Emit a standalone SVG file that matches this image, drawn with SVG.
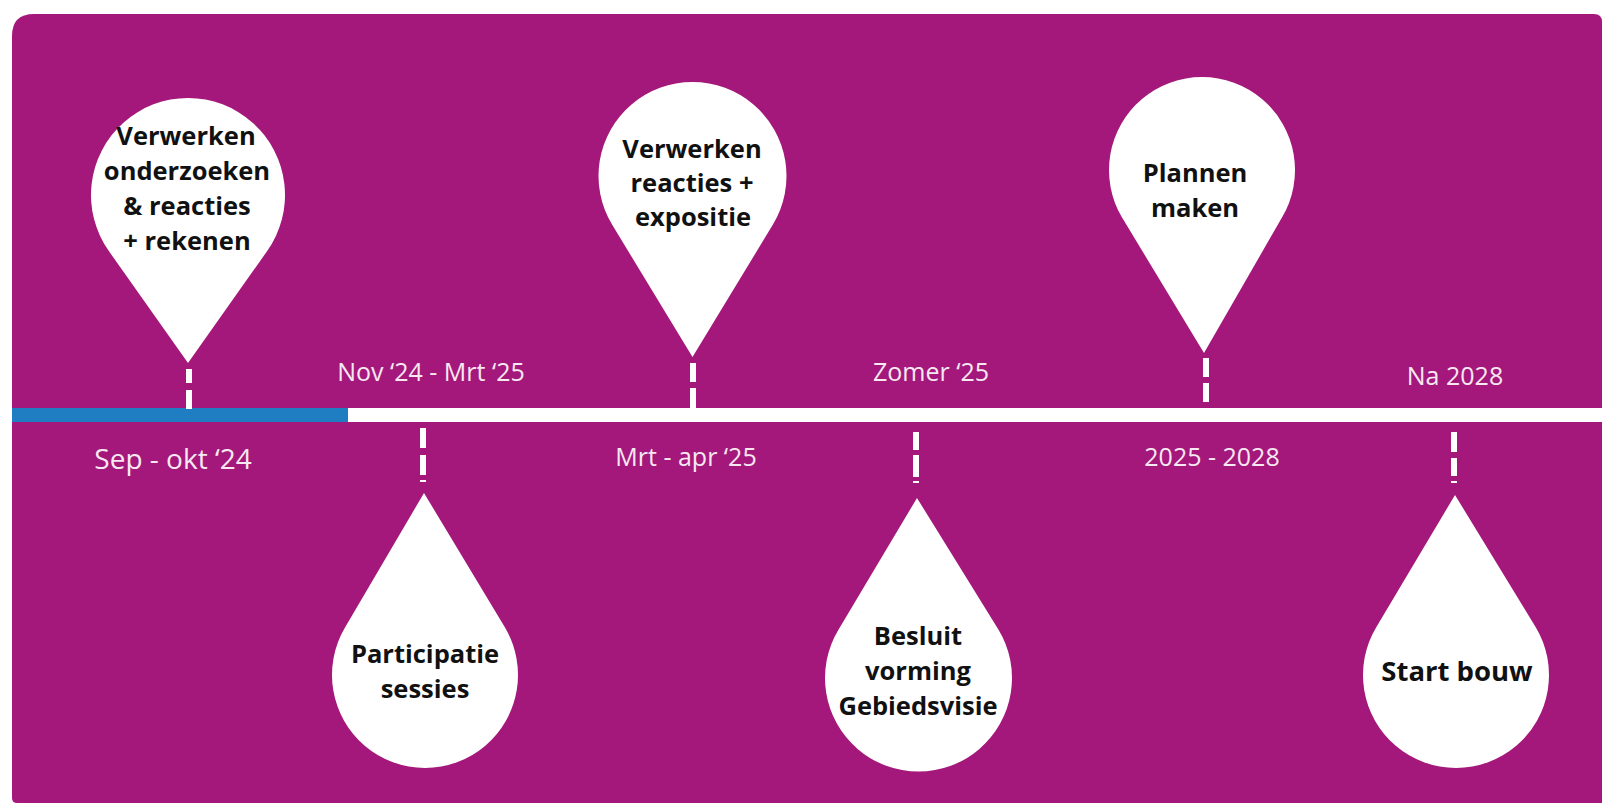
<svg xmlns="http://www.w3.org/2000/svg" width="1602" height="803" viewBox="0 0 1602 803">
<style>
.pin{fill:#ffffff}
.pt{font-family:"Open Sans","Liberation Sans",sans-serif;font-weight:700;font-size:25.5px;fill:#111111;text-anchor:middle}
.dt{font-family:"Open Sans","Liberation Sans",sans-serif;font-weight:400;font-size:25px;fill:#F7E8F2;text-anchor:middle}
.dash{stroke:#ffffff;stroke-width:6;fill:none}
</style>
<rect x="0" y="0" width="1602" height="803" fill="#ffffff"/>
<path d="M12,36 Q12,14 34,14 L1594,14 Q1602,14 1602,22 L1602,803 L17,803 Q12,803 12,798 Z" fill="#A3187A"/>
<g id="timeline">
<rect x="12" y="408" width="336" height="14" fill="#1F7EC1"/>
<rect x="348" y="408" width="1254" height="14" fill="#ffffff"/>
</g>
<g id="connectors">
<line class="dash" x1="189" y1="369" x2="189" y2="383"/>
<line class="dash" x1="189" y1="390" x2="189" y2="409"/>
<line class="dash" x1="693" y1="363" x2="693" y2="382"/>
<line class="dash" x1="693" y1="388" x2="693" y2="408"/>
<line class="dash" x1="1206" y1="358" x2="1206" y2="377"/>
<line class="dash" x1="1206" y1="383" x2="1206" y2="402"/>
<line class="dash" x1="423" y1="428" x2="423" y2="448"/>
<line class="dash" x1="423" y1="455" x2="423" y2="475"/>
<line class="dash" x1="423" y1="480" x2="423" y2="482" stroke-width="5"/>
<line class="dash" x1="916" y1="432" x2="916" y2="450"/>
<line class="dash" x1="916" y1="455" x2="916" y2="477"/>
<line class="dash" x1="916" y1="481" x2="916" y2="483" stroke-width="5"/>
<line class="dash" x1="1454" y1="432" x2="1454" y2="452"/>
<line class="dash" x1="1454" y1="458" x2="1454" y2="476"/>
<line class="dash" x1="1454" y1="481" x2="1454" y2="483" stroke-width="5"/>
</g>
<g id="pin-verwerken-onderzoeken">
<path class="pin" d="M188,363 L267.2,251 A97,97 0 1 0 108.8,251 Z"/>
<text class="pt" x="186" y="145">Verwerken</text>
<text class="pt" x="187" y="180">onderzoeken</text>
<text class="pt" x="187" y="215">&amp; reacties</text>
<text class="pt" x="187" y="250">+ rekenen</text>
</g>
<g id="pin-verwerken-reacties">
<path class="pin" d="M692.5,357 L772.8,224.8 A94,94 0 1 0 612.2,224.8 Z"/>
<text class="pt" x="692" y="158">Verwerken</text>
<text class="pt" x="692" y="192">reacties +</text>
<text class="pt" x="693" y="226">expositie</text>
</g>
<g id="pin-plannen">
<path class="pin" d="M1204,353 L1282.1,217.3 A93,93 0 1 0 1121.9,217.3 Z"/>
<text class="pt" x="1195" y="182">Plannen</text>
<text class="pt" x="1195" y="217">maken</text>
</g>
<g id="pin-participatie">
<path class="pin" d="M424,493 L505,627.5 A93,93 0 1 1 345,627.5 Z"/>
<text class="pt" x="425" y="663">Participatie</text>
<text class="pt" x="425" y="698">sessies</text>
</g>
<g id="pin-besluit">
<path class="pin" d="M917,498 L998.4,629.4 A93.5,93.5 0 1 1 838.6,629.4 Z"/>
<text class="pt" x="918" y="645">Besluit</text>
<text class="pt" x="918" y="680">vorming</text>
<text class="pt" x="918" y="715">Gebiedsvisie</text>
</g>
<g id="pin-start-bouw">
<path class="pin" d="M1455,495 L1535.6,626.9 A93,93 0 1 1 1376.4,626.9 Z"/>
<text class="pt" x="1457" y="681" style="font-size:27.5px">Start bouw</text>
</g>
<g id="dates">
<text class="dt" x="173" y="469" style="font-size:28px">Sep - okt ‘24</text>
<text class="dt" x="431" y="381">Nov ‘24 - Mrt ‘25</text>
<text class="dt" x="686" y="466">Mrt - apr ‘25</text>
<text class="dt" x="931" y="381">Zomer ‘25</text>
<text class="dt" x="1212" y="466">2025 - 2028</text>
<text class="dt" x="1455" y="385">Na 2028</text>
</g>
</svg>
